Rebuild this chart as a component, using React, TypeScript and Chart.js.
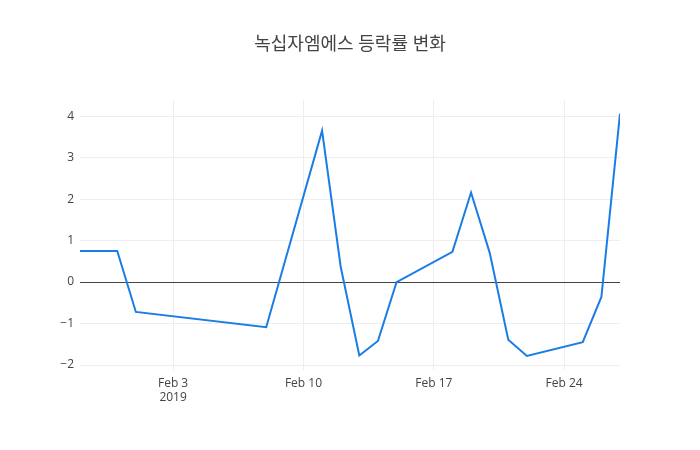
import React, { useEffect, useRef } from "react";
import { Chart, registerables } from "chart.js";

Chart.register(...registerables);

// days counted from Feb 3, 2019
const dayOffsets = [-5, -3, -2, 5, 8, 9, 10, 11, 12, 15, 16, 17, 18, 19, 22, 23, 24];
const changeRates = [
  0.75, 0.75, -0.72, -1.09, 3.65, 0.37, -1.77, -1.42, 0.0, 0.73, 2.16, 0.71, -1.39, -1.78, -1.45,
  -0.36, 4.06,
];
const xTickDays = [0, 7, 14, 21];
const xTickLabels: (string | string[])[] = [["Feb 3", "2019"], "Feb 10", "Feb 17", "Feb 24"];
const yTicks = [-2, -1, 0, 1, 2, 3, 4];

const FONT = "'Open Sans', 'Noto Sans CJK KR', sans-serif";

function App(): JSX.Element {
  const chartRef = useRef<HTMLCanvasElement>(null);
  const chartInstance = useRef<Chart<"line"> | null>(null);

  useEffect(() => {
    const ctx = chartRef.current?.getContext("2d");
    if (!ctx) return;
    if (chartInstance.current) chartInstance.current.destroy();

    chartInstance.current = new Chart(ctx, {
      type: "line",
      data: {
        datasets: [
          {
            data: dayOffsets.map((d, i) => ({ x: d, y: changeRates[i] })),
            borderColor: "#1a7de5",
            borderWidth: 2,
            pointRadius: 0,
            tension: 0,
          },
        ],
      },
      options: {
        animation: false,
        responsive: false,
        layout: { padding: 0 },
        plugins: {
          legend: { display: false },
          tooltip: { enabled: false },
          title: {
            display: true,
            text: "녹십자엠에스 등락률 변화",
            color: "#444",
            font: { family: FONT, size: 18, weight: "normal" },
            padding: { top: 34, bottom: 44.4 },
          },
        },
        scales: {
          x: {
            type: "linear",
            min: -5,
            max: 24,
            afterBuildTicks: (scale) => {
              scale.ticks = xTickDays.map((v) => ({ value: v }));
            },
            afterFit: (scale) => {
              scale.height = 80;
            },
            ticks: {
              color: "#444",
              font: { family: FONT, size: 12 },
              padding: 6,
              maxRotation: 0,
              callback: (value) => {
                const idx = xTickDays.indexOf(Number(value));
                return idx >= 0 ? xTickLabels[idx] : "";
              },
            },
            grid: { color: "#eee", drawTicks: false },
            border: { display: false },
          },
          y: {
            type: "linear",
            min: -2.12,
            max: 4.39,
            afterBuildTicks: (scale) => {
              scale.ticks = yTicks.map((v) => ({ value: v }));
            },
            afterFit: (scale) => {
              scale.width = 80;
            },
            ticks: {
              color: "#444",
              font: { family: FONT, size: 12 },
              padding: 6,
              callback: (value) => (Number(value) < 0 ? "\u2212" + Math.abs(Number(value)) : String(value)),
            },
            grid: {
              color: (c) => (c.tick && c.tick.value === 0 ? "#444" : "#eee"),
              drawTicks: false,
            },
            border: { display: false },
          },
          // empty right axis, only keeps the right margin so the title centres on the page
          yRight: {
            type: "linear",
            position: "right",
            min: 0,
            max: 1,
            afterFit: (scale) => {
              scale.width = 80;
            },
            ticks: { display: false },
            grid: { display: false, drawTicks: false },
            border: { display: false },
          },
        },
      },
    });

    return () => {
      if (chartInstance.current) {
        chartInstance.current.destroy();
        chartInstance.current = null;
      }
    };
  }, []);

  return (
    <div style={{ position: "absolute", left: 0, top: 0, width: 700, height: 450, background: "#fff" }}>
      <canvas ref={chartRef} width={700} height={450} style={{ width: 700, height: 450 }}></canvas>
    </div>
  );
}

export default App;
